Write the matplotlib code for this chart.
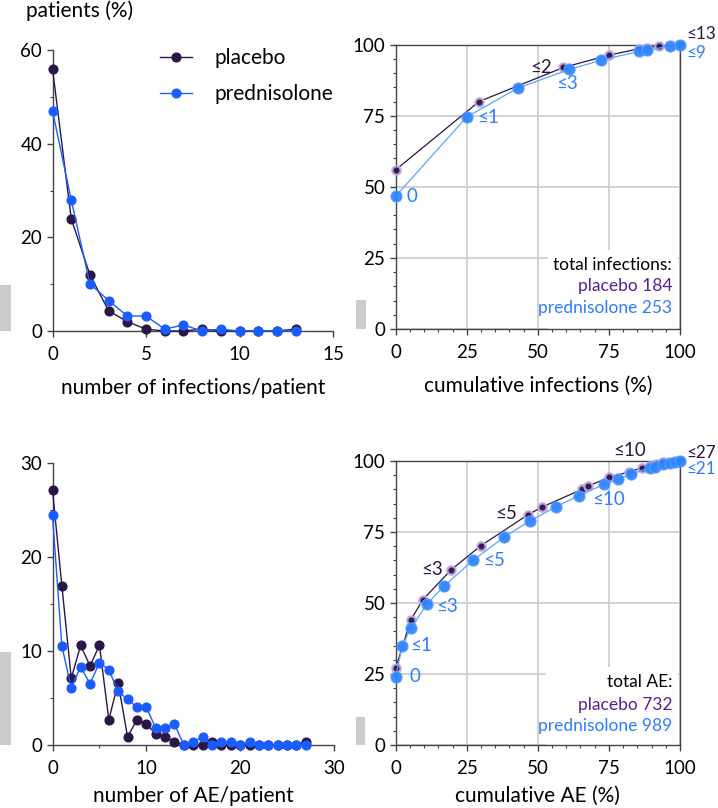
import matplotlib
matplotlib.use("Agg")
import matplotlib.pyplot as plt
from matplotlib.patches import Rectangle
from matplotlib.ticker import MultipleLocator

plt.rcParams['font.family'] = ['Lato', 'DejaVu Sans']

# ---------------- data ----------------
infections_per_patient = list(range(0, 14))
placebo_infections_pct = [56, 24, 12, 4.3, 2.0, 0.4, 0, 0, 0.4, 0, 0, 0, 0, 0.4]
prednisolone_infections_pct = [47, 28, 10.1, 6.5, 3.2, 3.2, 0.4, 1.3, 0, 0.4, 0, 0, 0, 0]

placebo_cum_inf_x = [0, 29.3, 59.0, 74.9, 85.7, 88.3, 92.7, 100]
placebo_cum_inf_y = [56, 80, 92, 96.3, 98.6, 98.9, 99.5, 100]
prednisolone_cum_inf_x = [0, 25.0, 43.1, 61.1, 72.1, 85.7, 88.3, 96.5, 100]
prednisolone_cum_inf_y = [46.7, 74.6, 84.8, 91.3, 94.5, 97.7, 98.0, 99.5, 100]

ae_per_patient = list(range(0, 28))
placebo_ae_pct = [27.1, 16.9, 7.1, 10.6, 8.4, 10.6, 2.7, 6.6, 0.85, 2.7, 2.2, 1.2, 0.85, 0.35,
                  0, 0, 0, 0.35, 0, 0, 0, 0, 0, 0, 0, 0, 0, 0.35]
prednisolone_ae_pct = [24.4, 10.5, 6.1, 8.3, 6.5, 8.75, 8.0, 5.7, 4.85, 4.0, 4.0, 1.8, 1.8, 2.2,
                       0, 0.35, 0.9, 0, 0.35, 0.35, 0, 0.35, 0, 0, 0, 0, 0, 0]

placebo_cum_ae_x = [0, 5.3, 9.5, 19.5, 30.0, 46.4, 51.3, 65.7, 67.8, 75.1, 82.2, 86.5, 89.5, 91.5, 94.1, 100]
placebo_cum_ae_y = [27.0, 44.0, 51.1, 61.7, 70.2, 81.0, 83.7, 90.1, 91.2, 94.3, 96.2, 97.6, 98.3, 99.0, 99.5, 100]
prednisolone_cum_ae_x = [0, 2.3, 5.3, 10.9, 17.1, 27.2, 38.0, 47.2, 56.3, 64.4, 73.4, 78.1, 82.8, 89.4,
                         91.2, 94.1, 96.5, 98.2, 100]
prednisolone_cum_ae_y = [24.1, 34.9, 41.1, 49.5, 56.1, 65.0, 73.1, 78.9, 83.8, 87.8, 91.8, 93.5, 95.4, 97.6,
                         98.0, 98.8, 99.2, 99.6, 100]

series_names = ["placebo", "prednisolone"]
total_infections = [184, 253]
total_ae = [732, 989]

# ---------------- style ----------------
DARK = "#2b1646"
BLUE = "#1a5cff"
CUM_BLUE = "#2f86ff"
CUM_BLUE_LINE = "#5aa6ff"
HALO = "#c2a6e2"
PURPLE_TXT = "#5a1f91"
BLUE_TXT = "#2f7bff"
SPINE = "#444444"
GRID = "#cfcfcf"

W, H = 718, 808
fig = plt.figure(figsize=(W / 100, H / 100), dpi=100)


def ax_px(x0, x1, ytop, ybot):
    return fig.add_axes([x0 / W, 1 - ybot / H, (x1 - x0) / W, (ybot - ytop) / H])


def style_axes(ax, frame=False):
    for s in ['top', 'right']:
        ax.spines[s].set_visible(frame)
    for s in ax.spines.values():
        s.set_color(SPINE)
        s.set_linewidth(1.0)
    ax.tick_params(which='major', direction='out', length=4, width=1, color=SPINE,
                   labelsize=13.5, pad=3.5)
    ax.tick_params(which='minor', direction='out', length=2.5, width=0.8, color=SPINE)
    ax.tick_params(axis='x', which='major', pad=7)


def dist_plot(ax, x, yp, yd, xmax, xmajor, ymax, ymajor, yminor, xminor=None):
    ax.plot(x, yp, '-o', color=DARK, lw=1.0, ms=6.3, mfc=DARK, mec=DARK, clip_on=False, zorder=3,
            label=series_names[0])
    ax.plot(x, yd, '-o', color=BLUE, lw=1.0, ms=6.3, mfc=BLUE, mec=BLUE, clip_on=False, zorder=4,
            label=series_names[1])
    ax.set_xlim(0, xmax)
    ax.set_ylim(0, ymax)
    ax.xaxis.set_major_locator(MultipleLocator(xmajor))
    if xminor:
        ax.xaxis.set_minor_locator(MultipleLocator(xminor))
    ax.yaxis.set_major_locator(MultipleLocator(ymajor))
    ax.yaxis.set_minor_locator(MultipleLocator(yminor))
    style_axes(ax)


def cum_plot(ax, px, py, dx, dy, box):
    ax.set_xlim(0, 100)
    ax.set_ylim(0, 100)
    ax.set_axisbelow(True)
    ax.grid(True, which='major', color=GRID, lw=1.3)
    ax.add_patch(Rectangle((box[0], 0), box[1] - box[0], box[2], facecolor='white',
                           edgecolor='none', zorder=1))
    ax.plot(px, py, '-', color=DARK, lw=0.9, zorder=3, clip_on=False)
    ax.plot(px, py, 'o', ms=6.0, mfc=DARK, mec=HALO, mew=1.6, alpha=0.95, zorder=4, clip_on=False)
    ax.plot(dx, dy, '-', color=CUM_BLUE_LINE, lw=0.9, zorder=5, clip_on=False)
    ax.plot(dx, dy, 'o', ms=8.0, mfc=CUM_BLUE, mec="#5c9cff", mew=0.8, alpha=0.95, zorder=6,
            clip_on=False)
    ax.xaxis.set_major_locator(MultipleLocator(25))
    ax.xaxis.set_minor_locator(MultipleLocator(5))
    ax.yaxis.set_major_locator(MultipleLocator(25))
    ax.yaxis.set_minor_locator(MultipleLocator(5))
    style_axes(ax, frame=True)


def lab(ax, text, xy, off, color, ha='left', size=13.5):
    ax.annotate(text, xy=xy, xytext=off, textcoords='offset pixels', ha=ha, va='center',
                fontsize=size, color=color, zorder=10, annotation_clip=False)


# ---------------- top left ----------------
ax1 = ax_px(52.5, 333, 50, 331)
dist_plot(ax1, infections_per_patient, placebo_infections_pct, prednisolone_infections_pct,
          15, 5, 60, 20, 10)
ax1.text(0.5, -57 / 281, "number of infections/patient", transform=ax1.transAxes,
         ha='center', va='center', fontsize=15)
leg = ax1.legend(loc='upper left', bbox_to_anchor=(0.355, 1.035), frameon=False, fontsize=15,
                 handlelength=1.5, handletextpad=1.1, labelspacing=0.75, borderaxespad=0)
fig.text(80 / W, 1 - 11 / H, "patients (%)", ha='center', va='center', fontsize=15)

# ---------------- top right ----------------
ax2 = ax_px(395.7, 680, 44.7, 329)
cum_plot(ax2, placebo_cum_inf_x, placebo_cum_inf_y, prednisolone_cum_inf_x, prednisolone_cum_inf_y,
         (53.7, 99.3, 27.8))
ax2.text(0.5, -57 / 284.3, "cumulative infections (%)", transform=ax2.transAxes,
         ha='center', va='center', fontsize=15)
lab(ax2, "≤13", (placebo_cum_inf_x[-1], placebo_cum_inf_y[-1]), (6, 11), DARK, size=12.3)
lab(ax2, "≤9", (prednisolone_cum_inf_x[-1], prednisolone_cum_inf_y[-1]), (6, -8), BLUE_TXT, size=12.3)
lab(ax2, "≤2", (placebo_cum_inf_x[2], placebo_cum_inf_y[2]), (-11, 0), DARK, ha='right')
lab(ax2, "≤3", (prednisolone_cum_inf_x[3], prednisolone_cum_inf_y[3]), (-2, -14), BLUE_TXT, ha='center')
lab(ax2, "≤1", (prednisolone_cum_inf_x[1], prednisolone_cum_inf_y[1]), (10, -1), BLUE_TXT)
lab(ax2, "0", (prednisolone_cum_inf_x[0], prednisolone_cum_inf_y[0]), (11, 0), BLUE_TXT)
ax2.text(97.2, 22.5, "total infections:", ha='right', va='center', fontsize=12.5, color='black', zorder=10)
ax2.text(97.2, 15.0, f"{series_names[0]} {total_infections[0]}", ha='right', va='center',
         fontsize=12.5, color=PURPLE_TXT, zorder=10)
ax2.text(97.2, 7.4, f"{series_names[1]} {total_infections[1]}", ha='right', va='center',
         fontsize=12.5, color=BLUE_TXT, zorder=10)

# ---------------- bottom left ----------------
ax3 = ax_px(52.5, 334, 462.7, 745)
dist_plot(ax3, ae_per_patient, placebo_ae_pct, prednisolone_ae_pct, 30, 10, 30, 10, 5, xminor=5)
ax3.text(0.5, -51 / 282.3, "number of AE/patient", transform=ax3.transAxes,
         ha='center', va='center', fontsize=15)

# ---------------- bottom right ----------------
ax4 = ax_px(395.7, 680, 461, 745)
cum_plot(ax4, placebo_cum_ae_x, placebo_cum_ae_y, prednisolone_cum_ae_x, prednisolone_cum_ae_y,
         (52.9, 99.3, 27.6))
ax4.text(0.5, -51 / 284, "cumulative AE (%)", transform=ax4.transAxes,
         ha='center', va='center', fontsize=15)
lab(ax4, "≤27", (placebo_cum_ae_x[-1], placebo_cum_ae_y[-1]), (6, 8.5), DARK, size=12.3)
lab(ax4, "≤21", (prednisolone_cum_ae_x[-1], prednisolone_cum_ae_y[-1]), (6, -8), BLUE_TXT, size=12.3)
lab(ax4, "≤10", (placebo_cum_ae_x[10], placebo_cum_ae_y[10]), (0, 21), DARK, ha='center')
lab(ax4, "≤10", (prednisolone_cum_ae_x[10], prednisolone_cum_ae_y[10]), (4, -15), BLUE_TXT, ha='center')
lab(ax4, "≤5", (placebo_cum_ae_x[5], placebo_cum_ae_y[5]), (-10, 1), DARK, ha='right')
lab(ax4, "≤5", (prednisolone_cum_ae_x[5], prednisolone_cum_ae_y[5]), (10, 0), BLUE_TXT)
lab(ax4, "≤3", (placebo_cum_ae_x[3], placebo_cum_ae_y[3]), (-8, 0), DARK, ha='right')
lab(ax4, "≤3", (prednisolone_cum_ae_x[3], prednisolone_cum_ae_y[3]), (10, -2), BLUE_TXT)
lab(ax4, "≤1", (prednisolone_cum_ae_x[1], prednisolone_cum_ae_y[1]), (8.5, 0), BLUE_TXT)
lab(ax4, "0", (prednisolone_cum_ae_x[0], prednisolone_cum_ae_y[0]), (14, 0), BLUE_TXT)
ax4.text(97.2, 22.2, "total AE:", ha='right', va='center', fontsize=12.5, color='black', zorder=10)
ax4.text(97.2, 14.1, f"{series_names[0]} {total_ae[0]}", ha='right', va='center',
         fontsize=12.5, color=PURPLE_TXT, zorder=10)
ax4.text(97.2, 6.7, f"{series_names[1]} {total_ae[1]}", ha='right', va='center',
         fontsize=12.5, color=BLUE_TXT, zorder=10)

# grey side marks present in the reference image
for (x0, x1, y0, y1) in [(0, 11, 285, 331), (356, 365.5, 300, 329), (0, 11, 652, 745), (356, 365, 717, 745)]:
    fig.patches.append(Rectangle((x0 / W, 1 - y1 / H), (x1 - x0) / W, (y1 - y0) / H,
                                 transform=fig.transFigure, facecolor='#cccccc', edgecolor='none'))

fig.savefig("out.png", dpi=100)
